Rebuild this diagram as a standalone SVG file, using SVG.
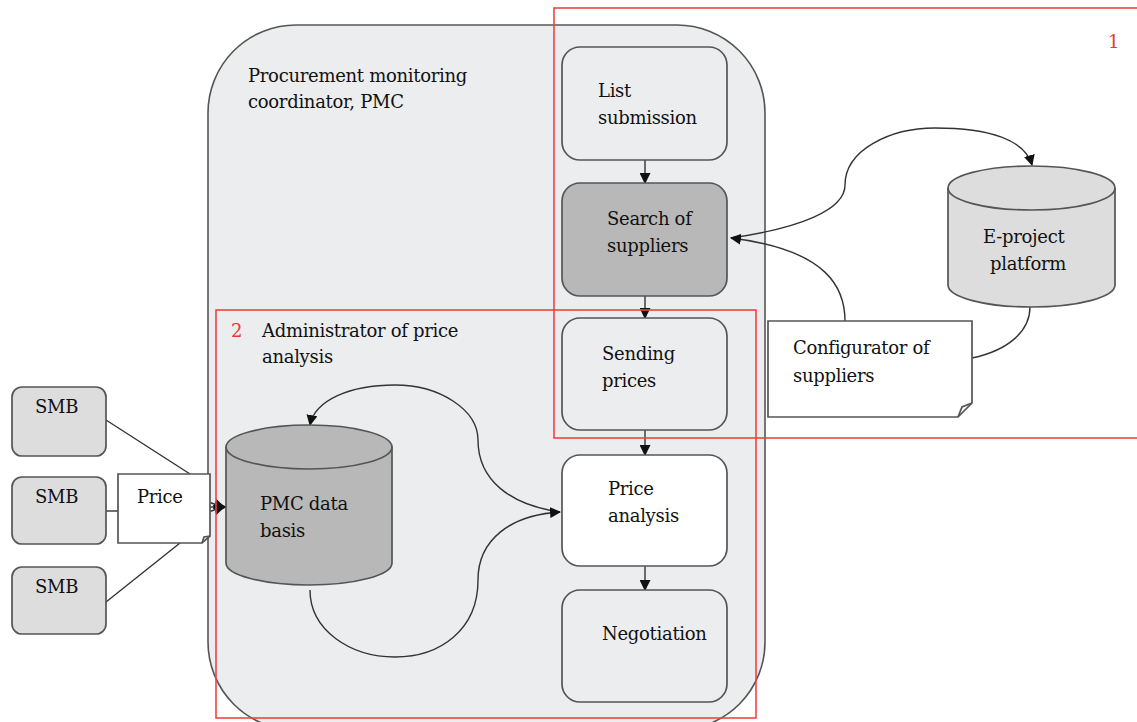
<svg xmlns="http://www.w3.org/2000/svg" width="1137" height="722" viewBox="0 0 1137 722">
<defs>
<style>
text{font-family:"DejaVu Serif","Liberation Serif",serif;font-size:18px;fill:#111;letter-spacing:-0.3px}
.red{fill:#e53935}
.box{stroke:#555;stroke-width:1.7}
.ln{fill:none;stroke:#333;stroke-width:1.4}
.rb{fill:none;stroke:#ee4444;stroke-width:1.6}
</style>
<marker id="ah" viewBox="0 0 10 10" refX="9" refY="5" markerWidth="11" markerHeight="11" markerUnits="userSpaceOnUse" orient="auto">
<path d="M0,0 L10,5 L0,10 z" fill="#111"/>
</marker>
</defs>
<rect width="1137" height="722" fill="#fff"/>
<g id="pmc">
<rect x="208" y="25" width="557" height="705" rx="88" fill="#ecedef" stroke="#555" stroke-width="1.6"/>
<text x="248" y="82">Procurement monitoring</text>
<text x="248" y="108">coordinator, PMC</text>
</g>
<g id="connectors">
<line class="ln" x1="645" y1="160" x2="645" y2="183" marker-end="url(#ah)"/>
<line class="ln" x1="645" y1="296" x2="645" y2="318" marker-end="url(#ah)"/>
<line class="ln" x1="645" y1="430" x2="645" y2="455" marker-end="url(#ah)"/>
<line class="ln" x1="645" y1="566" x2="645" y2="590" marker-end="url(#ah)"/>
<path class="ln" d="M731,238 C800,228 845,210 845,185 C845,150 890,128 935,128 C990,128 1025,140 1032,165" marker-end="url(#ah)"/>
<path class="ln" d="M845,321 C845,290 830,250 731,238" marker-end="url(#ah)"/>
<path class="ln" d="M1030,307 C1030,330 1010,350 972,358"/>
<path class="ln" d="M560,512 C510,505 478,480 478,440 C478,410 440,385 395,385 C350,385 315,400 310,425" marker-end="url(#ah)"/>
<path class="ln" d="M310,590 C310,630 350,657 395,657 C440,657 478,630 478,580 C478,540 510,515 560,512" marker-end="url(#ah)"/>
<line class="ln" x1="106" y1="420" x2="190" y2="474"/>
<line class="ln" x1="106" y1="511" x2="118" y2="511"/>
<line class="ln" x1="106" y1="602" x2="180" y2="543"/>
<line class="ln" x1="210" y1="507" x2="226" y2="507" marker-end="url(#ah)"/>
<line class="ln" x1="208" y1="502" x2="224" y2="507" marker-end="url(#ah)"/>
<line class="ln" x1="208" y1="512" x2="224" y2="507" marker-end="url(#ah)"/>
</g>
<g id="list-submission">
<rect class="box" x="562" y="47" width="165" height="113" rx="18" fill="#ecedef"/>
<text x="598" y="97">List</text>
<text x="598" y="124">submission</text>
</g>
<g id="search-suppliers">
<rect class="box" x="562" y="183" width="165" height="113" rx="18" fill="#b8b8b8"/>
<text x="607" y="225">Search of</text>
<text x="607" y="252">suppliers</text>
</g>
<g id="sending-prices">
<rect class="box" x="562" y="318" width="165" height="112" rx="18" fill="#ecedef"/>
<text x="602" y="360">Sending</text>
<text x="602" y="387">prices</text>
</g>
<g id="price-analysis">
<rect class="box" x="562" y="455" width="165" height="111" rx="18" fill="#fff"/>
<text x="608" y="495">Price</text>
<text x="608" y="522">analysis</text>
</g>
<g id="negotiation">
<rect class="box" x="562" y="590" width="165" height="112" rx="18" fill="#ecedef"/>
<text x="602" y="640">Negotiation</text>
</g>
<g id="e-project">
<path class="box" d="M948,188 L948,285 A83.5,22 0 0 0 1115,285 L1115,188 A83.5,22 0 0 0 948,188 z" fill="#dddddd"/>
<path class="box" d="M948,188 A83.5,22 0 0 0 1115,188" fill="none"/>
<text x="983" y="243">E-project</text>
<text x="990" y="270">platform</text>
</g>
<g id="configurator">
<path class="box" d="M768,321 L972,321 L972,403 L958,417 L768,417 z" fill="#fff"/>
<path class="box" d="M958,417 L962,407 L972,403" fill="none"/>
<text x="793" y="354">Configurator of</text>
<text x="793" y="382">suppliers</text>
</g>
<g id="pmc-data">
<path class="box" d="M226,447 L226,563 A83,22 0 0 0 392,563 L392,447 A83,22 0 0 0 226,447 z" fill="#b8b8b8"/>
<path class="box" d="M226,447 A83,22 0 0 0 392,447" fill="none"/>
<text x="260" y="510">PMC data</text>
<text x="260" y="537">basis</text>
</g>
<g id="smb1">
<rect class="box" x="12" y="387" width="94" height="69" rx="10" fill="#dddddd"/>
<text x="35" y="413">SMB</text>
</g>
<g id="smb2">
<rect class="box" x="12" y="477" width="94" height="67" rx="10" fill="#dddddd"/>
<text x="35" y="503">SMB</text>
</g>
<g id="smb3">
<rect class="box" x="12" y="567" width="94" height="67" rx="10" fill="#dddddd"/>
<text x="35" y="593">SMB</text>
</g>
<g id="price-doc">
<path class="box" d="M118,474 L210,474 L210,536 L202,543 L118,543 z" fill="#fff"/>
<path class="box" d="M202,543 L204,537 L210,536" fill="none"/>
<text x="137" y="503">Price</text>
</g>
<g id="region1">
<rect class="rb" x="554" y="8" width="600" height="430"/>
<text class="red" x="1108" y="48">1</text>
</g>
<g id="region2">
<rect class="rb" x="216" y="310" width="540" height="408"/>
<text class="red" x="231" y="337">2</text>
<text x="262" y="337">Administrator of price</text>
<text x="262" y="363">analysis</text>
</g>
</svg>
